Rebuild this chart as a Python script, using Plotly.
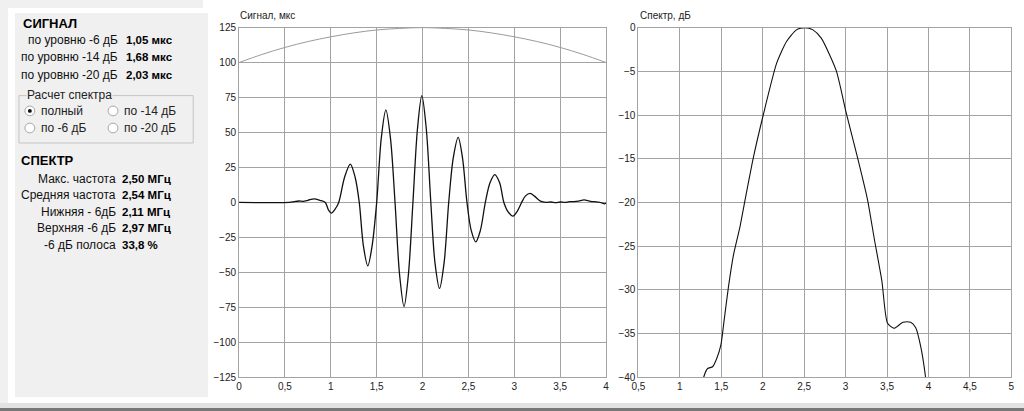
import plotly.graph_objects as go

# Screen size and the browser's default body margin (the figure sits inside it)
SW, SH = 1024, 411
M = 8
W, H = SW - 2 * M, SH - 2 * M

# ---------------- data ----------------
signal_t = [0.00, 0.55, 0.60, 0.65, 0.70, 0.75, 0.82, 0.88, 0.94, 0.975, 1.007, 1.045,
            1.086, 1.15, 1.212, 1.265, 1.31, 1.355, 1.403, 1.45, 1.50, 1.55, 1.600, 1.65,
            1.70, 1.75, 1.798, 1.845, 1.895, 1.945, 1.992, 2.04, 2.09, 2.135, 2.185, 2.235,
            2.285, 2.335, 2.388, 2.435, 2.484, 2.53, 2.580, 2.63, 2.684, 2.735, 2.787, 2.84,
            2.886, 2.935, 2.985, 3.03, 3.08, 3.12, 3.172, 3.22, 3.27, 3.30, 3.35, 3.40, 3.45,
            3.50, 3.55, 3.60, 3.65, 3.70, 3.76, 3.82, 3.87, 3.92, 3.96, 3.98, 4.00]
signal_v = [0.0, 0.0, 0.5, 1.0, 0.8, 1.5, 2.6, 1.5, 0.0, -5.5, -7.6, -5.0,
            0.0, 18.0, 27.4, 18.0, 0.0, -31.0, -45.4, -31.0, 0.0, 46.0, 66.2, 46.0,
            0.0, -52.0, -74.4, -52.0, 0.0, 53.0, 76.3, 53.0, 0.0, -43.0, -61.5, -43.0,
            0.0, 32.0, 46.5, 32.0, 0.0, -20.0, -28.2, -20.0, 0.0, 14.0, 19.9, 14.0,
            0.0, -7.0, -9.8, -6.5, 0.0, 4.5, 6.4, 4.5, 1.5, 0.5, 0.0, 0.3, -0.2,
            0.3, 0.0, 0.5, 0.6, 1.0, 1.8, 1.0, 0.5, 0.2, -0.5, -1.0, -0.5]

window_t = [0.0, 0.25, 0.5, 0.75, 1.0, 1.25, 1.5, 1.75, 2.0, 2.25, 2.5, 2.75, 3.0, 3.25, 3.5, 3.75, 4.0]
window_v = [100.0, 105.8, 110.8, 115.0, 118.4, 121.2, 123.3, 124.4, 125.0, 124.4, 123.3, 121.2,
            118.4, 115.0, 110.8, 105.8, 100.0]

spec_f = [1.25, 1.287, 1.335, 1.395, 1.447, 1.495, 1.535, 1.587, 1.647, 1.727, 1.787,
          1.886, 2.006, 2.167, 2.287, 2.406, 2.506, 2.606, 2.706, 2.886, 3.006, 3.145,
          3.265, 3.345, 3.438, 3.505, 3.585, 3.693, 3.785, 3.845, 3.905, 3.965, 3.98]
spec_db = [-42.0, -40.0, -39.0, -38.8, -37.8, -36.3, -33.4, -29.6, -26.0, -22.7, -19.7,
           -14.9, -10.0, -4.1, -1.6, -0.26, 0.0, -0.26, -1.2, -4.9, -9.7, -14.9,
           -19.7, -24.1, -29.0, -33.8, -34.4, -33.7, -33.7, -34.3, -36.4, -40.0, -41.5]

sig_xticks = [0, 0.5, 1, 1.5, 2, 2.5, 3, 3.5, 4]
sig_xtext = ["0", "0,5", "1", "1,5", "2", "2,5", "3", "3,5", "4"]
sig_yticks = [125, 100, 75, 50, 25, 0, -25, -50, -75, -100, -125]
spec_xticks = [0.5, 1, 1.5, 2, 2.5, 3, 3.5, 4, 4.5, 5]
spec_xtext = ["0,5", "1", "1,5", "2", "2,5", "3", "3,5", "4", "4,5", "5"]
spec_yticks = [0, -5, -10, -15, -20, -25, -30, -35, -40]

signal_labels = ["по уровню -6 дБ", "по уровню -14 дБ", "по уровню -20 дБ"]
signal_values = ["1,05 мкс", "1,68 мкс", "2,03 мкс"]
radio_labels = ["полный", "по -14 дБ", "по -6 дБ", "по -20 дБ"]
spectrum_labels = ["Макс. частота", "Средняя частота", "Нижняя - 6дБ", "Верхняя -6 дБ", "-6 дБ полоса"]
spectrum_values = ["2,50 МГц", "2,54 МГц", "2,11 МГц", "2,97 МГц", "33,8 %"]


def px(x):
    return (x - M) / W


def py(y):
    return 1 - (y - M) / H


FONT = "Liberation Sans, Arial, sans-serif"
GRID = "#a3a3a3"

fig = go.Figure()
fig.add_trace(go.Scatter(x=window_t, y=window_v, mode="lines", line=dict(color="#9a9a9a", width=1, shape="spline"),
                         xaxis="x", yaxis="y", hoverinfo="skip"))
fig.add_trace(go.Scatter(x=signal_t, y=signal_v, mode="lines",
                         line=dict(color="#111111", width=1.3, shape="spline", smoothing=0.9),
                         xaxis="x", yaxis="y"))
fig.add_trace(go.Scatter(x=spec_f, y=spec_db, mode="lines",
                         line=dict(color="#111111", width=1.1, shape="spline", smoothing=0.6),
                         xaxis="x2", yaxis="y2"))

top, bottom = 23, 382.7
ax_common = dict(showgrid=True, gridcolor=GRID, gridwidth=1, showline=True, linecolor=GRID, linewidth=1,
                 mirror=True, zeroline=False, ticks="", tickfont=dict(family=FONT, size=10, color="#222222"),
                 fixedrange=True)

fig.update_layout(
    width=W, height=H, margin=dict(l=0, r=0, t=0, b=0),
    paper_bgcolor="white", plot_bgcolor="white", showlegend=False,
    font=dict(family=FONT, size=12, color="#111111"),
    xaxis=dict(domain=[px(234.3), px(605)], range=[0, 4], tickvals=sig_xticks, ticktext=sig_xtext,
               anchor="y", **ax_common),
    yaxis=dict(domain=[py(bottom), py(top)], range=[-125, 125], tickvals=sig_yticks, anchor="x", **ax_common),
    xaxis2=dict(domain=[px(637.7), px(1014.3)], range=[0.5, 5], tickvals=spec_xticks, ticktext=spec_xtext,
                anchor="y2", **ax_common),
    yaxis2=dict(domain=[py(bottom), py(top)], range=[-40, 0], tickvals=spec_yticks, anchor="x2", **ax_common),
)

shapes = []
# left gray panel (inside the figure part)
shapes.append(dict(type="rect", xref="paper", yref="paper", x0=0, x1=px(203), y0=0, y1=1,
                   fillcolor="#f0f0f0", line=dict(width=0), layer="below"))
# group box
shapes.append(dict(type="rect", xref="paper", yref="paper", x0=px(12), x1=px(188), y0=py(141.7), y1=py(93),
                   line=dict(color="#c4c4c4", width=1), fillcolor="rgba(0,0,0,0)"))

annotations = []


def text(x, y, s, anchor="left", size=12, bold=False, color="#111111", bg=None):
    a = dict(xref="paper", yref="paper", x=px(x), y=py(y), text=("<b>%s</b>" % s) if bold else s,
             showarrow=False, xanchor=anchor, yanchor="middle",
             font=dict(family=FONT, size=size, color=color))
    if bg:
        a["bgcolor"] = bg
        a["borderpad"] = 0
    annotations.append(a)


text(14, 18.3, "СИГНАЛ", size=13, bold=True, color="#000000")
for i, (lab, val) in enumerate(zip(signal_labels, signal_values)):
    yy = 35.7 + i * 17.8
    text(114, yy, lab, anchor="right")
    text(118, yy, val, size=11.5, bold=True, color="#000000")

text(19, 92.5, "Расчет спектра", size=12, bg="#f0f0f0", color="#222222")

radio_pos = [(23, 108.7), (107, 108.7), (23, 126.3), (107, 126.3)]
for i, (lab, (cx, cy)) in enumerate(zip(radio_labels, radio_pos)):
    shapes.append(dict(type="circle", xref="paper", yref="paper", x0=px(cx - 5), x1=px(cx + 5),
                       y0=py(cy + 5), y1=py(cy - 5), fillcolor="white", line=dict(color="#a8a8a8", width=1)))
    if i == 0:
        shapes.append(dict(type="circle", xref="paper", yref="paper", x0=px(cx - 2), x1=px(cx + 2),
                           y0=py(cy + 2), y1=py(cy - 2), fillcolor="#111111", line=dict(width=0)))
    text(cx + 9, cy, lab, color="#222222")

text(12, 159.3, "СПЕКТР", size=13, bold=True, color="#000000")
for i, (lab, val) in enumerate(zip(spectrum_labels, spectrum_values)):
    yy = 178.3 + i * 17.1
    text(112, yy, lab, anchor="right")
    text(114, yy, val, size=11.5, bold=True, color="#000000")

text(233, 10.7, "Сигнал, мкс", size=10, color="#222222")
text(637, 10.7, "Спектр, дБ", size=10, color="#222222")

fig.update_layout(shapes=shapes, annotations=annotations)

# paint the page margin around the figure so the window edges match the app frame
post = (
    "document.documentElement.style.background="
    "'linear-gradient(#777777,#777777) 0 408px/100% 3px no-repeat,"
    "linear-gradient(#e2e2e2,#e2e2e2) 0 403px/100% 5px no-repeat,"
    "linear-gradient(#f0f0f0,#f0f0f0) 0 0/203px 403px no-repeat,#ffffff';"
    "document.body.style.background='transparent';"
)
fig.write_html("out.html", config={"displayModeBar": False}, post_script=post)
